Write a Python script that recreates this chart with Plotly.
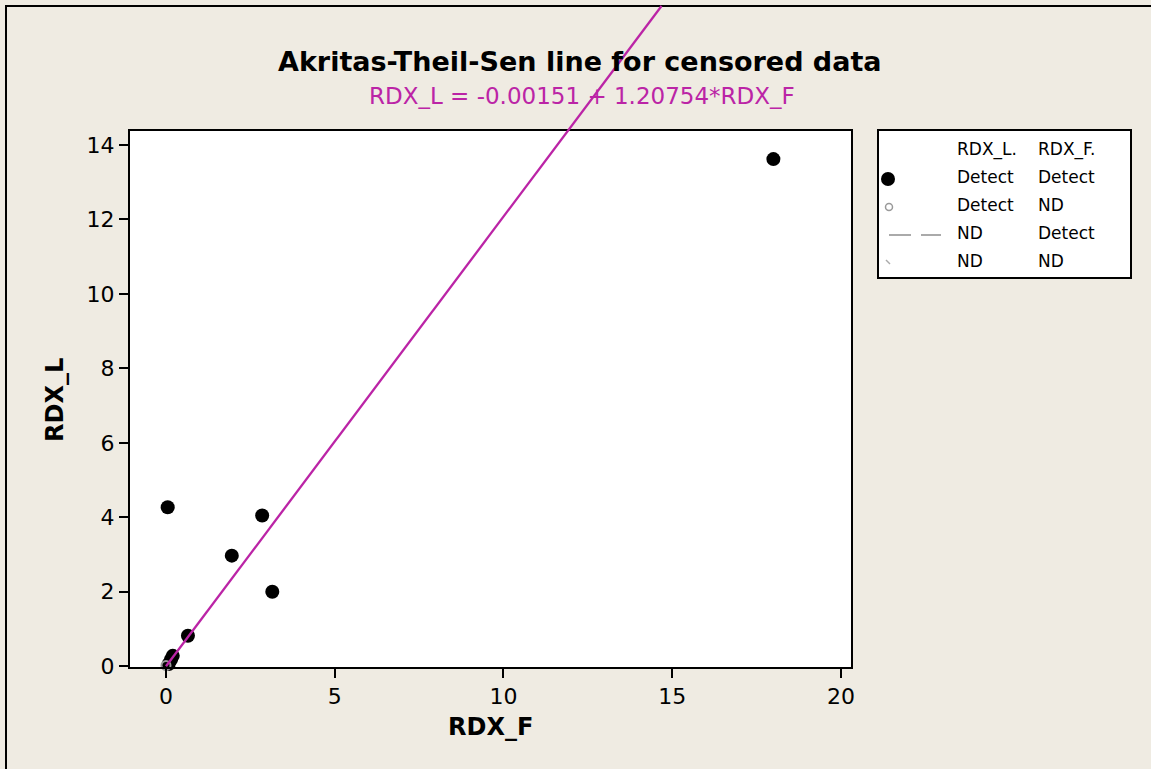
import plotly.graph_objects as go

# ---------------- data ----------------
det_x = [18.0, 0.05, 2.85, 1.95, 3.15, 0.65, 0.2, 0.15, 0.08]
det_y = [13.62, 4.27, 4.05, 2.97, 2.0, 0.82, 0.28, 0.18, 0.06]
ndx_x = [0.0]          # Detect RDX_L, ND RDX_F
ndx_y = [0.02]
intercept = -0.00151
slope = 1.20754
x_ticks = [0, 5, 10, 15, 20]
y_ticks = [0, 2, 4, 6, 8, 10, 12, 14]
title_text = "Akritas-Theil-Sen line for censored data"
subtitle_text = "RDX_L = -0.00151 + 1.20754*RDX_F"
leg_col1 = ["RDX_L.", "Detect", "Detect", "ND", "ND"]
leg_col2 = ["RDX_F.", "Detect", "ND", "Detect", "ND"]

# ---------------- layout constants ----------------
W, H = 1151, 769
ML, MR, MT, MB = 130, 21, 131, 102
PW = W - ML - MR
PH = H - MT - MB
XDOM = 0.721
XR = [-1.067, 20.3]
YR = [-0.02, 14.375]
BG = "#EFEBE2"
MAG = "#BB24A6"
FONT = "DejaVu Sans"

def px_to_paper_x(px):
    return (px - ML) / PW

def px_to_paper_y(py):
    return (H - MB - py) / PH

fig = go.Figure()

# Detect / Detect points
fig.add_trace(go.Scatter(
    x=det_x, y=det_y, mode="markers", cliponaxis=False,
    marker=dict(color="black", size=14), showlegend=False, hoverinfo="x+y"))
# Detect / ND point
fig.add_trace(go.Scatter(
    x=ndx_x, y=ndx_y, mode="markers", cliponaxis=False,
    marker=dict(color="#999999", size=9, symbol="circle-open", line=dict(width=2, color="#999999")),
    showlegend=False))

# Fitted line (drawn unclipped in paper coords via the axis scale, up to figure border)
top_border_px = 6
def xd(v):
    return (v - XR[0]) / (XR[1] - XR[0]) * XDOM
def yd(v):
    return (v - YR[0]) / (YR[1] - YR[0])
y_end = YR[0] + px_to_paper_y(top_border_px) * (YR[1] - YR[0])
x_end = (y_end - intercept) / slope
fig.add_shape(type="line", xref="paper", yref="paper",
              x0=xd(0), y0=yd(intercept), x1=xd(x_end), y1=yd(y_end),
              line=dict(color=MAG, width=2.3), layer="above")

# figure border (top/left visible)
fig.add_shape(type="rect", xref="paper", yref="paper",
              x0=px_to_paper_x(6), x1=px_to_paper_x(W + 40),
              y0=px_to_paper_y(H + 40), y1=px_to_paper_y(6),
              line=dict(color="black", width=2), fillcolor="rgba(0,0,0,0)", layer="below")

# ---------------- legend as small subplot ----------------
row_y = [20, 48, 76, 104, 132]
fig.add_trace(go.Scatter(x=[78] * 5, y=row_y, text=leg_col1, mode="text",
                         textposition="middle right", xaxis="x2", yaxis="y2",
                         textfont=dict(family=FONT, size=17, color="black"),
                         showlegend=False, hoverinfo="skip"))
fig.add_trace(go.Scatter(x=[159] * 5, y=row_y, text=leg_col2, mode="text",
                         textposition="middle right", xaxis="x2", yaxis="y2",
                         textfont=dict(family=FONT, size=17, color="black"),
                         showlegend=False, hoverinfo="skip"))
fig.add_trace(go.Scatter(x=[9], y=[row_y[1]], mode="markers", xaxis="x2", yaxis="y2",
                         marker=dict(color="black", size=14), cliponaxis=False,
                         showlegend=False, hoverinfo="skip"))
fig.add_trace(go.Scatter(x=[10], y=[row_y[2]], mode="markers", xaxis="x2", yaxis="y2",
                         marker=dict(color="#999999", size=7, symbol="circle-open",
                                     line=dict(width=1.5, color="#999999")),
                         showlegend=False, hoverinfo="skip"))
fig.add_trace(go.Scatter(x=[10, 62], y=[row_y[3], row_y[3]], mode="lines", xaxis="x2", yaxis="y2",
                         line=dict(color="#AAAAAA", width=2, dash="22px,10px"),
                         showlegend=False, hoverinfo="skip"))
fig.add_trace(go.Scatter(x=[9], y=[row_y[4] - 1], mode="markers", xaxis="x2", yaxis="y2",
                         marker=dict(color="#AAAAAA", size=4, symbol="line-nw",
                                     line=dict(width=1.5, color="#AAAAAA")),
                         showlegend=False, hoverinfo="skip"))

# ---------------- annotations ----------------
ann = [
    dict(text="<b>" + title_text + "</b>", x=px_to_paper_x(580), y=px_to_paper_y(62),
         font=dict(family=FONT, size=27, color="black")),
    dict(text=subtitle_text, x=px_to_paper_x(582), y=px_to_paper_y(96),
         font=dict(family=FONT, size=23, color=MAG)),
    dict(text="<b>RDX_F</b>", x=px_to_paper_x(490), y=px_to_paper_y(727),
         font=dict(family=FONT, size=24, color="black")),
    dict(text="<b>RDX_L</b>", x=px_to_paper_x(55), y=px_to_paper_y(400), textangle=-90,
         font=dict(family=FONT, size=24, color="black")),
]
for a in ann:
    a.update(xref="paper", yref="paper", showarrow=False, xanchor="center", yanchor="middle")

axis_common = dict(showline=True, linecolor="black", linewidth=2, mirror=True,
                   showgrid=False, zeroline=False, ticks="outside", ticklen=9,
                   tickwidth=2, tickcolor="black",
                   tickfont=dict(family=FONT, size=22, color="black"))

fig.update_layout(
    width=W, height=H,
    margin=dict(l=ML, r=MR, t=MT, b=MB),
    paper_bgcolor=BG, plot_bgcolor="white",
    showlegend=False,
    annotations=ann,
    xaxis=dict(domain=[0, XDOM], range=XR, tickvals=x_ticks, **axis_common),
    yaxis=dict(domain=[0, 1], range=YR, tickvals=y_ticks, **axis_common),
    xaxis2=dict(domain=[px_to_paper_x(879), 1.0], range=[0, 251], visible=True,
                showline=True, linecolor="black", linewidth=2, mirror=True,
                showgrid=False, zeroline=False, showticklabels=False, ticks="",
                anchor="y2"),
    yaxis2=dict(domain=[px_to_paper_y(277), px_to_paper_y(131)], range=[146, 0],
                showline=True, linecolor="black", linewidth=2, mirror=True,
                showgrid=False, zeroline=False, showticklabels=False, ticks="",
                anchor="x2"),
)

fig.write_html("out.html", config={"displayModeBar": False},
               post_script="document.body.style.margin='0';document.body.style.overflow='hidden';")
